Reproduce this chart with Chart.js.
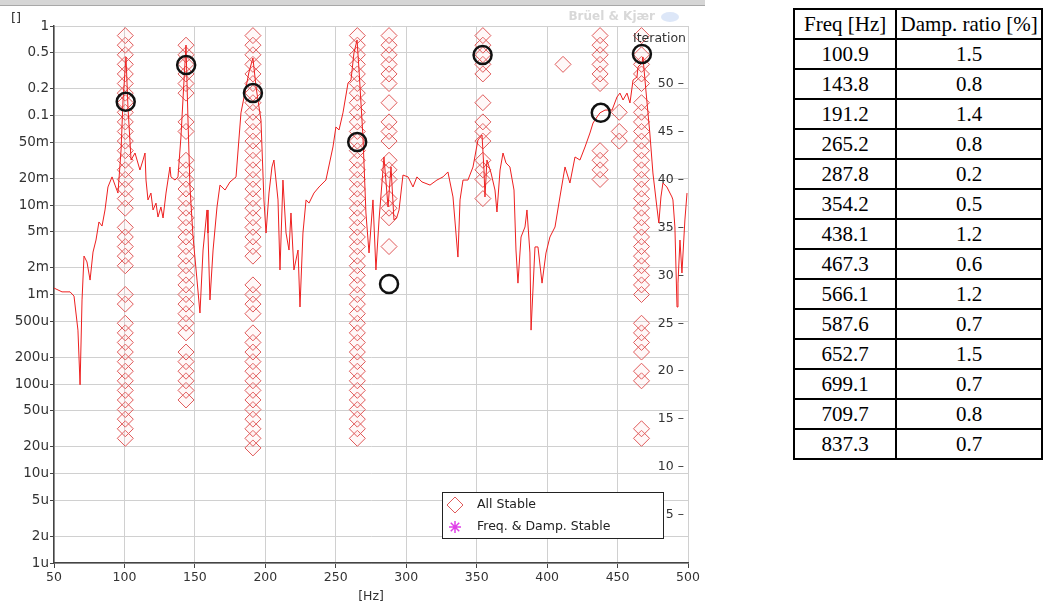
<!DOCTYPE html>
<html>
<head>
<meta charset="utf-8">
<script src="https://cdn.jsdelivr.net/npm/chart.js@4.4.0/dist/chart.umd.min.js"></script>
<style>
  body { margin: 0; background: #fff; width: 1043px; height: 605px; overflow: hidden; position: relative; }
  #chartBox { position: absolute; left: 0; top: 0; width: 705px; height: 605px; }
  #modes { position: absolute; left: 793px; top: 8px; border-collapse: collapse; table-layout: fixed;
           font-family: "Liberation Serif", "Times New Roman", serif; font-size: 21px; color: #000; }
  #modes td, #modes th { border: 2px solid #000; padding: 0; height: 28px; line-height: 26px;
                         text-align: center; font-weight: normal; white-space: nowrap; overflow: hidden; }
  #modes .c1 { width: 101px; }
  #modes .c2 { width: 144px; }
</style>
</head>
<body>
<div id="chartBox"><canvas id="stabChart" width="705" height="605"></canvas></div>
<table id="modes"></table>
<script>
// FRF magnitude (red curve)
const frfFreq = [50.0, 55.7, 61.4, 64.2, 67.0, 68.5, 69.9, 71.3, 73.4, 75.6,
  77.7, 79.8, 81.9, 84.1, 86.2, 88.3, 91.2, 93.3, 95.4, 97.6,
  99.0, 101.1, 102.5, 104.7, 107.5, 111.0, 113.2, 114.6, 115.3, 116.7,
  118.8, 120.3, 122.4, 123.8, 125.9, 127.4, 129.5, 132.3, 133.0, 135.9,
  138.0, 140.1, 142.3, 143.7, 145.1, 146.5, 148.7, 151.5, 153.6, 155.8,
  158.6, 159.3, 160.7, 162.9, 165.7, 167.8, 171.4, 174.9, 179.2, 182.7,
  186.3, 188.4, 191.2, 193.4, 196.9, 199.0, 200.5, 202.6, 204.7, 206.1,
  209.0, 210.4, 212.5, 214.7, 216.8, 218.2, 220.3, 223.2, 224.6, 226.7,
  228.9, 231.0, 234.5, 238.1, 243.0, 248.0, 250.1, 252.3, 255.1, 258.7,
  260.8, 262.9, 265.1, 266.5, 269.3, 271.4, 273.6, 276.4, 278.5, 280.7,
  283.5, 284.2, 287.1, 289.2, 291.3, 293.4, 294.9, 297.7, 301.3, 304.8,
  307.6, 311.2, 316.9, 321.8, 326.1, 329.6, 333.2, 336.7, 338.2, 340.3,
  343.8, 347.4, 350.9, 353.8, 355.2, 355.9, 357.3, 360.2, 363.0, 364.4,
  366.6, 368.7, 370.8, 373.6, 376.5, 377.9, 379.3, 381.5, 384.3, 385.7,
  387.8, 388.6, 391.4, 393.5, 396.4, 399.2, 402.0, 405.6, 409.1, 412.7,
  416.2, 419.8, 423.3, 426.9, 430.4, 432.6, 435.4, 437.5, 441.1, 446.1,
  449.6, 451.7, 453.9, 456.7, 458.8, 461.0, 463.8, 464.5, 467.3, 468.0,
  470.1, 472.9, 475.1, 477.9, 479.3, 480.8, 482.2, 485.0, 488.6, 489.3,
  490.7, 492.2, 492.9, 494.3, 495.7, 497.8, 499.3];
const frfMag = [1.18e-3, 1.07e-3, 1.07e-3, 9.6e-4, 4.0e-4, 9.8e-5, 8.7e-4, 2.69e-3, 2.31e-3, 1.45e-3,
  2.98e-3, 4.06e-3, 6.46e-3, 5.82e-3, 8.8e-3, 1.59e-2, 2.06e-2, 1.67e-2, 1.36e-2, 4.12e-2,
  0.149, 0.451, 0.124, 3.18e-2, 3.81e-2, 2.46e-2, 3.18e-2, 3.81e-2, 1.90e-2, 1.14e-2,
  1.36e-2, 8.8e-3, 1.05e-2, 7.34e-3, 9.5e-3, 7.16e-3, 1.36e-2, 2.66e-2, 2.06e-2, 1.90e-2,
  2.06e-2, 5.75e-2, 0.249, 0.613, 8.91e-2, 1.59e-2, 4.39e-3, 1.45e-3, 6.21e-4, 3.14e-3,
  8.8e-3, 4.86e-3, 8.69e-4, 3.14e-3, 9.5e-3, 1.67e-2, 1.47e-2, 1.81e-2, 2.06e-2, 0.107,
  0.208, 0.306, 0.439, 0.208, 8.91e-2, 1.14e-2, 4.86e-3, 1.36e-2, 2.66e-2, 3.18e-2,
  1.14e-2, 1.88e-3, 1.90e-2, 4.86e-3, 3.14e-3, 8.14e-3, 1.88e-3, 3.14e-3, 7.25e-4, 4.86e-3,
  1.14e-2, 1.05e-2, 1.36e-2, 1.59e-2, 1.90e-2, 4.45e-2, 7.44e-2, 6.89e-2, 0.107, 0.231,
  0.249, 0.499, 0.698, 0.322, 5.75e-2, 8.14e-3, 2.91e-3, 1.14e-2, 1.88e-3, 6.8e-3,
  2.46e-2, 3.44e-2, 9.5e-3, 2.66e-2, 6.8e-3, 7.34e-3, 8.8e-3, 2.16e-2, 2.06e-2, 1.59e-2,
  2.06e-2, 1.81e-2, 1.67e-2, 1.90e-2, 2.06e-2, 2.34e-2, 1.23e-2, 2.62e-3, 1.14e-2, 1.90e-2,
  1.90e-2, 2.66e-2, 5.32e-2, 6.05e-2, 2.46e-2, 1.23e-2, 3.18e-2, 2.28e-2, 1.47e-2, 8.35e-3,
  2.46e-2, 3.81e-2, 2.95e-2, 2.66e-2, 1.47e-2, 3.14e-3, 1.34e-3, 4.39e-3, 5.68e-3, 8.8e-3,
  2.91e-3, 4.0e-4, 3.40e-3, 3.40e-3, 1.34e-3, 2.91e-3, 4.39e-3, 5.68e-3, 1.23e-2, 2.66e-2,
  1.76e-2, 3.44e-2, 3.18e-2, 4.45e-2, 6.37e-2, 8.24e-2, 9.62e-2, 0.107, 0.115, 0.115,
  0.161, 0.178, 0.149, 0.178, 0.138, 0.249, 0.269, 0.348, 0.386, 0.451,
  0.193, 6.37e-2, 2.28e-2, 9.5e-3, 6.29e-3, 1.23e-2, 1.76e-2, 1.59e-2, 1.23e-2, 1.14e-2,
  5.68e-3, 7.25e-4, 1.34e-3, 4.06e-3, 1.74e-3, 6.8e-3, 1.36e-2];

// stabilisation columns: pole frequency and the iterations where it was stable
const poleFreq = [100.6, 143.7, 191.2, 265.3, 287.8, 354.4, 411.3, 437.6, 451.2, 467.0];
const stable101 = [13, 14, 15, 16, 17, 18, 19, 20, 21, 22, 23, 24, 25, 27, 28, 31, 32, 33, 34, 35,
  37, 38, 39, 40, 41, 42, 43, 44, 45, 46, 47, 48, 49, 50, 51, 52, 53, 54, 55];
const stable144 = [17, 18, 19, 20, 21, 22, 24, 25, 26, 27, 28, 29, 30, 31, 32, 33, 34, 35, 36, 37,
  38, 39, 40, 41, 42, 45, 46, 49, 50, 51, 52, 53, 54];
const stable191 = [12, 13, 14, 15, 16, 17, 18, 19, 20, 21, 22, 23, 24, 26, 27, 28, 29, 32, 33, 34,
  35, 36, 37, 38, 39, 40, 41, 42, 43, 44, 45, 46, 47, 48, 49, 50, 51, 52, 53, 54, 55];
const stable265 = [13, 14, 15, 16, 17, 18, 19, 20, 21, 22, 23, 24, 25, 26, 27, 28, 29, 30, 31, 32,
  33, 34, 35, 36, 37, 38, 39, 40, 41, 42, 43, 44, 45, 46, 47, 48, 49, 50, 51, 52, 53, 54, 55];
const stable288 = [33, 36, 37, 38, 40, 41, 42, 44, 45, 46, 48, 50, 51, 52, 53, 54, 55];
const stable354 = [38, 40, 41, 42, 44, 45, 46, 48, 51, 52, 53, 54, 55];
const stable411 = [52];
const stable438 = [40, 41, 42, 43, 50, 51, 52, 53, 54, 55];
const stable451 = [44, 45, 47];
const stable467 = [13, 14, 19, 20, 22, 23, 24, 25, 28, 29, 30, 31, 32, 33, 34, 35, 36, 37, 38, 39,
  40, 41, 42, 43, 44, 45, 46, 47, 48, 50, 51, 52, 53, 55];
const poleIters = [stable101, stable144, stable191, stable265, stable288,
  stable354, stable411, stable438, stable451, stable467];

// picked modes (black circles)
const modeFreq = [100.9, 143.8, 191.2, 265.2, 287.8, 354.2, 438.1, 467.3];
const modeMag = [0.142, 0.367, 0.178, 0.0506, 0.00131, 0.474, 0.107, 0.487];

// axis ticks
const magTicks = [1, 0.5, 0.2, 0.1, 0.05, 0.02, 0.01, 5e-3, 2e-3, 1e-3, 5e-4, 2e-4, 1e-4,
  5e-5, 2e-5, 1e-5, 5e-6, 2e-6, 1e-6];
const magTickLabels = ['1', '0.5', '0.2', '0.1', '50m', '20m', '10m', '5m', '2m', '1m', '500u',
  '200u', '100u', '50u', '20u', '10u', '5u', '2u', '1u'];
const iterTicks = [5, 10, 15, 20, 25, 30, 35, 40, 45, 50];

// table on the right
const tableFreq = [100.9, 143.8, 191.2, 265.2, 287.8, 354.2, 438.1, 467.3, 566.1, 587.6, 652.7, 699.1, 709.7, 837.3];
const tableDamp = [1.5, 0.8, 1.4, 0.8, 0.2, 0.5, 1.2, 0.6, 1.2, 0.7, 1.5, 0.7, 0.8, 0.7];

const table = document.getElementById('modes');
let rows = '<tr><th class="c1">Freq [Hz]</th><th class="c2">Damp. ratio [%]</th></tr>';
tableFreq.forEach((f, i) => {
    rows += '<tr><td>' + f.toFixed(1) + '</td><td>' + tableDamp[i].toFixed(1) + '</td></tr>';
});
table.innerHTML = rows;

const stableData = [];
poleFreq.forEach((f, i) => {
    poleIters[i].forEach(it => stableData.push({ x: f, y: it }));
});

const axisFont = { family: '"DejaVu Sans", Verdana, sans-serif', size: 12.5 };
const magFont = { family: '"DejaVu Sans", Verdana, sans-serif', size: 13.5 };
const diamondColor = '#e05a5a';
const starColor = '#e040e8';

const decor = {
    id: 'decor',
    beforeDraw(chart) {
        const c = chart.ctx;
        c.save();
        c.fillStyle = '#fff';
        c.fillRect(0, 0, chart.width, chart.height);
        c.restore();
    },
    afterDraw(chart) {
        const c = chart.ctx;
        const a = chart.chartArea;
        c.save();
        // window frame strip along the top
        c.fillStyle = '#d6d6d6';
        c.fillRect(0, 0, chart.width, 5);
        c.fillStyle = '#a8a8a8';
        c.fillRect(0, 5, chart.width, 1);

        c.font = '13px "DejaVu Sans"';
        c.fillStyle = '#333';
        c.textBaseline = 'middle';
        c.textAlign = 'left';
        c.fillText('[]', 11, 19);
        c.font = '12.5px "DejaVu Sans"';
        c.textAlign = 'right';
        c.fillText('Iteration', a.right - 2, a.top + 13);
        c.textAlign = 'center';
        c.fillText('[Hz]', (a.left + a.right) / 2, 597);

        // faint watermark
        c.font = 'bold 12px "DejaVu Sans"';
        c.fillStyle = '#d8d8d8';
        c.textAlign = 'right';
        c.fillText('Brüel & Kjær', a.right - 33, 17);
        c.fillStyle = '#dde7f8';
        c.beginPath();
        c.ellipse(a.right - 18, 17, 9, 5, 0, 0, Math.PI * 2);
        c.fill();

        // legend box
        const lx = a.right - 246, ly = a.bottom - 71;
        c.fillStyle = '#fff';
        c.fillRect(lx, ly, 221, 46);
        c.strokeStyle = '#222';
        c.lineWidth = 1;
        c.strokeRect(lx + 0.5, ly + 0.5, 221, 46);

        const dx = lx + 13, dy = ly + 13;
        c.strokeStyle = diamondColor;
        c.beginPath();
        c.moveTo(dx - 8, dy); c.lineTo(dx, dy - 8); c.lineTo(dx + 8, dy); c.lineTo(dx, dy + 8);
        c.closePath();
        c.stroke();

        const sx = lx + 13, sy = ly + 35;
        c.strokeStyle = starColor;
        c.lineWidth = 1.5;
        c.beginPath();
        for (let k = 0; k < 4; k++) {
            const ang = k * Math.PI / 4;
            c.moveTo(sx - 6 * Math.cos(ang), sy - 6 * Math.sin(ang));
            c.lineTo(sx + 6 * Math.cos(ang), sy + 6 * Math.sin(ang));
        }
        c.stroke();

        c.font = '12.5px "DejaVu Sans"';
        c.fillStyle = '#222';
        c.textAlign = 'left';
        c.fillText('All Stable', lx + 35, dy);
        c.fillText('Freq. & Damp. Stable', lx + 35, sy);
        c.restore();
    }
};

new Chart(document.getElementById('stabChart'), {
    type: 'scatter',
    data: {
        datasets: [{
            label: 'Modes',
            data: modeFreq.map((f, i) => ({ x: f, y: modeMag[i] })),
            yAxisID: 'y',
            pointStyle: 'circle',
            pointRadius: 9,
            borderColor: '#111',
            borderWidth: 2.5,
            backgroundColor: 'rgba(0,0,0,0)',
            order: 0
        }, {
            label: 'FRF',
            type: 'line',
            data: frfFreq.map((f, i) => ({ x: f, y: frfMag[i] })),
            yAxisID: 'y',
            borderColor: '#ee2020',
            borderWidth: 1,
            pointRadius: 0,
            tension: 0,
            order: 1
        }, {
            label: 'All Stable',
            data: stableData,
            yAxisID: 'y2',
            pointStyle: 'rectRot',
            pointRadius: 8,
            borderColor: diamondColor,
            borderWidth: 1,
            backgroundColor: 'rgba(255,210,210,0.15)',
            order: 2
        }, {
            label: 'Freq. & Damp. Stable',
            data: [],
            yAxisID: 'y2',
            pointStyle: 'star',
            borderColor: starColor,
            order: 3
        }]
    },
    options: {
        responsive: false,
        animation: false,
        layout: { padding: { top: 26, left: 0, right: 0, bottom: 0 } },
        plugins: { legend: { display: false }, tooltip: { enabled: false } },
        scales: {
            x: {
                type: 'linear',
                min: 50,
                max: 500,
                ticks: { stepSize: 50, font: axisFont, color: '#333', padding: 2, maxRotation: 0 },
                grid: { color: '#d0d0d0', tickColor: '#444', tickLength: 5 },
                border: { color: '#444', width: 1.5 },
                afterFit: s => { s.height = 42; }
            },
            y: {
                type: 'logarithmic',
                position: 'left',
                min: 1e-6,
                max: 1,
                afterBuildTicks: s => { s.ticks = magTicks.map(v => ({ value: v })); },
                ticks: {
                    autoSkip: false,
                    font: magFont,
                    color: '#333',
                    padding: 1,
                    callback: v => magTickLabels[magTicks.indexOf(v)]
                },
                grid: { color: '#d0d0d0', tickColor: '#444', tickLength: 4 },
                border: { color: '#444', width: 1.5 },
                afterFit: s => { s.width = 54; }
            },
            y2: {
                type: 'linear',
                position: 'right',
                min: 0,
                max: 56,
                afterBuildTicks: s => { s.ticks = iterTicks.map(v => ({ value: v })); },
                ticks: {
                    mirror: true,
                    padding: -4,
                    font: axisFont,
                    color: '#333',
                    callback: v => v + ' \u2013'
                },
                grid: { display: false },
                border: { display: false },
                afterFit: s => { s.width = 17; }
            }
        }
    },
    plugins: [decor]
});
</script>
</body>
</html>
